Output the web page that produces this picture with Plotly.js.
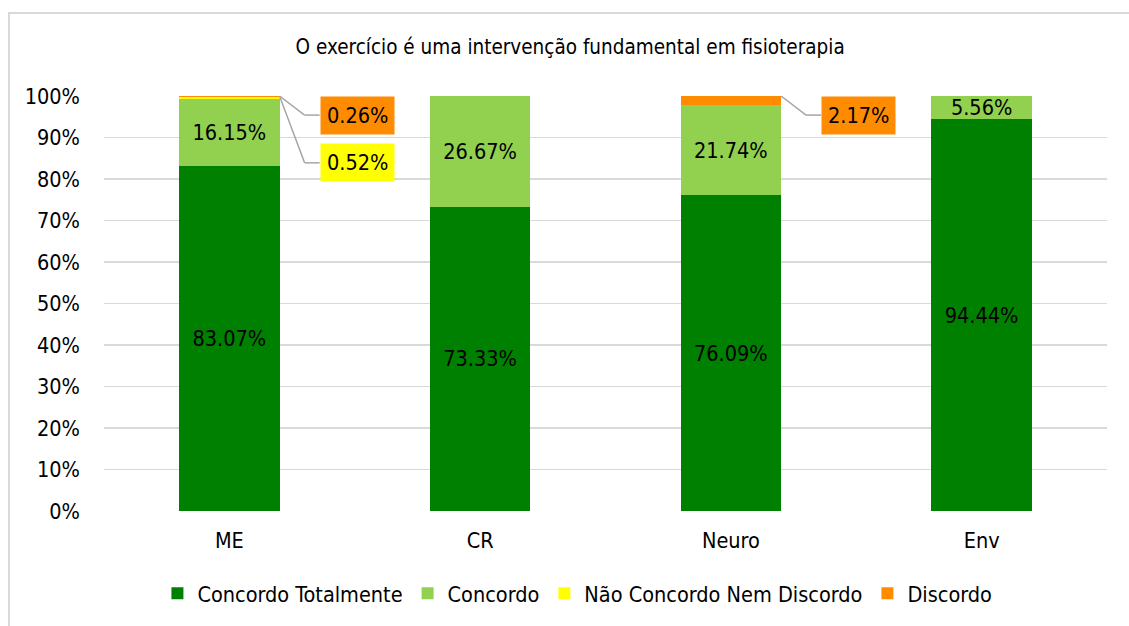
<!DOCTYPE html>
<html>
<head>
<meta charset="utf-8">
<script src="https://cdn.plot.ly/plotly-3.0.1.min.js"></script>
<style>
  html, body { margin: 0; padding: 0; background: #fff; }
  #wrap { position: relative; width: 1129px; height: 626px; }
  #chart { width: 1129px; height: 626px; }
  #frame { position: absolute; left: 8px; top: 12px; right: -4px; bottom: -4px;
           border-left: 2px solid #d9d9d9; border-top: 2px solid #d9d9d9; pointer-events: none; }
</style>
</head>
<body>
<div id="wrap"><div id="chart"></div><div id="frame"></div></div>
<script>
const categories = ["ME", "CR", "Neuro", "Env"];
const seriesNames = ["Concordo Totalmente", "Concordo", "Não Concordo Nem Discordo", "Discordo"];
const concordoTotalmente = [83.07, 73.33, 76.09, 94.44];
const concordo = [16.15, 26.67, 21.74, 5.56];
const naoConcordoNemDiscordo = [0.52, 0, 0, 0];
const discordo = [0.26, 0, 2.17, 0];
const yTickVals = [0, 10, 20, 30, 40, 50, 60, 70, 80, 90, 100];
const yTickText = ["0%", "10%", "20%", "30%", "40%", "50%", "60%", "70%", "80%", "90%", "100%"];

const colors = ["#008000", "#92D050", "#FFFF00", "#FF8C00"];
const allSeries = [concordoTotalmente, concordo, naoConcordoNemDiscordo, discordo];
const FONT = "'Liberation Sans Narrow', 'DejaVu Sans Condensed', 'Roboto', sans-serif";
const FS = 21.5;

const traces = allSeries.map((vals, i) => ({
  type: "bar",
  name: seriesNames[i],
  x: categories,
  y: vals,
  width: 0.4,
  marker: { color: colors[i], line: { width: 0 } },
  text: vals.map(v => v >= 5 ? v.toFixed(2) + "%" : ""),
  textposition: "inside",
  insidetextanchor: "middle",
  textangle: 0,
  constraintext: "none",
  textfont: { color: "#000", size: FS, family: FONT },
  hoverinfo: "name+y"
}));

// small segments labelled outside with leader lines
const callouts = [
  { series: 3, cat: 0, dy: -4.6 },
  { series: 2, cat: 0, dy: -16.1 },
  { series: 3, cat: 2, dy: -4.6 }
];
const shapes = [];
const annotations = [];
callouts.forEach(c => {
  const top = allSeries.reduce((s, arr) => s + arr[c.cat], 0);
  const ly = top + c.dy;
  const v = allSeries[c.series][c.cat];
  shapes.push({ type: "line", xref: "x", yref: "y", x0: c.cat + 0.2, y0: top, x1: c.cat + 0.3, y1: ly,
                line: { color: "#a6a6a6", width: 1.5 } });
  shapes.push({ type: "line", xref: "x", yref: "y", x0: c.cat + 0.3, y0: ly, x1: c.cat + 0.36, y1: ly,
                line: { color: "#a6a6a6", width: 1.5 } });
  annotations.push({ xref: "x", yref: "y", x: c.cat + 0.36, y: ly, xanchor: "left", yanchor: "middle",
                     text: v.toFixed(2) + "%", showarrow: false, bgcolor: colors[c.series],
                     borderpad: 6, font: { size: FS, color: "#000", family: FONT } });
});

const layout = {
  width: 1129, height: 626,
  margin: { l: 104, r: 22, t: 96, b: 115 },
  paper_bgcolor: "#fff", plot_bgcolor: "#fff",
  barmode: "stack",
  font: { family: FONT, color: "#000" },
  title: { text: "O exercício é uma intervenção fundamental em fisioterapia",
           font: { size: 20.5, family: FONT, color: "#000" }, x: 0.505, xanchor: "center", y: 0.925, yanchor: "middle" },
  xaxis: { type: "category", showgrid: false, showline: false, ticks: "", zeroline: false,
           ticklabelstandoff: 14,
           tickfont: { size: FS, family: FONT, color: "#000" }, range: [-0.5, 3.5] },
  yaxis: { range: [0, 100], tickvals: yTickVals, ticktext: yTickText, showgrid: true,
           gridcolor: "#d9d9d9", gridwidth: 1.5, zeroline: false, showline: false, ticks: "",
           ticklen: 0, ticklabelstandoff: 23, tickfont: { size: FS, family: FONT, color: "#000" }, automargin: false },
  legend: { orientation: "h", x: 0.472, xanchor: "center", y: -0.198, yanchor: "middle",
            font: { size: FS, family: FONT, color: "#000" }, itemwidth: 30, traceorder: "normal" },
  shapes: shapes,
  annotations: annotations,
  bargap: 0.6,
  showlegend: true
};

Plotly.newPlot("chart", traces, layout, { displayModeBar: false, staticPlot: true });
</script>
</body>
</html>
